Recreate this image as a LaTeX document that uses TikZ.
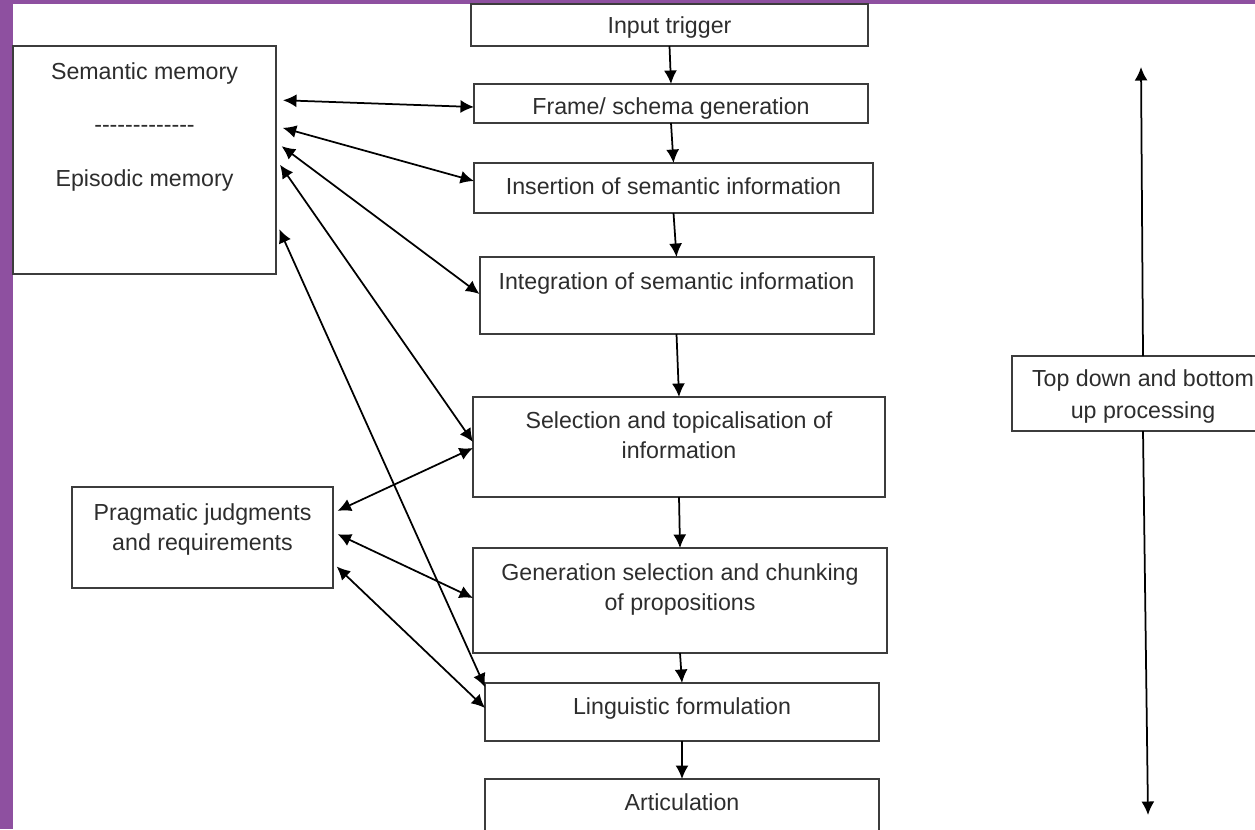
\documentclass[tikz,border=0pt]{standalone}
\usepackage{fontspec}
\setmainfont{Liberation Sans}
\newfontfamily\plainfont{Liberation Sans}
\usetikzlibrary{positioning}
\usetikzlibrary{arrows.meta}
\definecolor{frame-purple}{RGB}{142,80,160}
\definecolor{ink}{RGB}{45,45,45}
\definecolor{edge}{RGB}{60,60,60}

\begin{document}
\begin{tikzpicture}[x=0.2mm, y=-0.2mm]
    \tikzset{ blk/.style={draw=edge, line width=0.4mm, inner sep=0pt, outer sep=0pt} }
    \tikzset{ txt/.style={anchor=north, yshift=-2.9mm, align=center, inner sep=0pt, text=ink, font=\fontsize{13.2}{17}\selectfont} }
    \tikzset{ arr/.style={->, >={Latex[length=2.7mm,width=2.6mm]}, line width=0.35mm} }
    \tikzset{ dbl/.style={<->, >={Latex[length=2.7mm,width=2.6mm]}, line width=0.35mm} }

    \useasboundingbox (0,0) rectangle (1255,829);
    \fill[frame-purple] (0,0) rectangle (1255,829);
    \fill[white] (13,4) rectangle (1255,829);

    % memory stores on the left
    \node[blk, minimum width=52.6mm, minimum height=45.6mm, label={[txt, yshift=-0.3mm]north:{Semantic memory\\[13.4pt]{\plainfont -------------}\\[13.4pt]Episodic memory}}] (sem) at (144.5,160) {};
    \node[blk, minimum width=52.2mm, minimum height=20.2mm, label={[txt, yshift=-0.4mm]north:{Pragmatic judgments\\and requirements}}] (prg) at (202.5,537.5) {};

    % processing column
    \node[blk, minimum width=79.4mm, minimum height=8.4mm, label={[txt, yshift=0.4mm]north:{Input trigger}}] (inp) at (669.5,25) {};
    \node[blk, minimum width=78.8mm, minimum height=7.8mm,  below=7.6mm of inp, xshift=0.3mm, label={[txt, yshift=0.2mm]north:{Frame/ schema generation}}] (frm) {};
    \node[blk, minimum width=79.8mm, minimum height=10mm,   below=8mm of frm,   xshift=0.5mm, label={[txt]north:{Insertion of semantic information}}] (ins) {};
    \node[blk, minimum width=78.8mm, minimum height=15.4mm, below=8.8mm of ins, xshift=0.6mm, label={[txt, yshift=-0.2mm]north:{Integration of semantic information}}] (itg) {};
    \node[blk, minimum width=82.4mm, minimum height=20mm,   below=12.6mm of itg, xshift=0.5mm, label={[txt]north:{Selection and topicalisation of\\information}}] (sel) {};
    \node[blk, minimum width=82.8mm, minimum height=21mm,   below=10.2mm of sel, xshift=0.2mm, label={[txt, yshift=-0.2mm]north:{Generation selection and chunking\\of propositions}}] (gen) {};
    \node[blk, minimum width=78.8mm, minimum height=11.6mm, below=6mm of gen,   xshift=0.4mm, label={[txt]north:{Linguistic formulation}}] (lin) {};
    \node[blk, minimum width=78.8mm, minimum height=13.2mm, below=7.6mm of lin, label={[txt]north:{Articulation}}] (art) {};

    % direction of processing on the right
    \node[blk, minimum width=52.4mm, minimum height=15mm, label={[txt, yshift=0.2mm]north:{Top down and bottom\\[1pt]up processing}}] (tdb) at (1143,393.5) {};
    \coordinate (tup) at (1141,67);
    \coordinate (tdn) at (1148,815);

    \draw[arr] (inp.south) -- (frm.north);
    \draw[arr] (frm.south) -- (ins.north);
    \draw[arr] (ins.south) -- (itg.north);
    \draw[arr] (itg.south) -- (sel.north);
    \draw[arr] (sel.south) -- (gen.north);
    \draw[arr] (gen.south) -- (lin.north);
    \draw[arr] (lin.south) -- (art.north);

    \draw[dbl, shorten <=1.4mm] (sem.east |- 0,100) -- (frm.west |- 0,107);
    \draw[dbl, shorten <=1.4mm] (sem.east |- 0,126) -- (ins.west |- 0,181);
    \draw[dbl, shorten <=1.4mm] (sem.east |- 0,142) -- (itg.west |- 0,294);
    \draw[dbl, shorten <=1.4mm] (sem.east |- 0,159) -- (sel.west |- 0,442);
    \draw[dbl, shorten <=1.6mm] (sem.east |- 0,222) -- (lin.west |- 0,687);

    \draw[dbl, shorten <=1.0mm] (prg.east |- 0,513) -- (sel.west |- 0,448);
    \draw[dbl, shorten <=1.0mm] (prg.east |- 0,532) -- (gen.west |- 0,598);
    \draw[dbl, shorten <=1.0mm] (prg.east |- 0,563) -- (lin.west |- 0,708);

    \draw[arr] (tdb.north) -- (tup);
    \draw[arr] (tdb.south) -- (tdn);
\end{tikzpicture}
\end{document}
